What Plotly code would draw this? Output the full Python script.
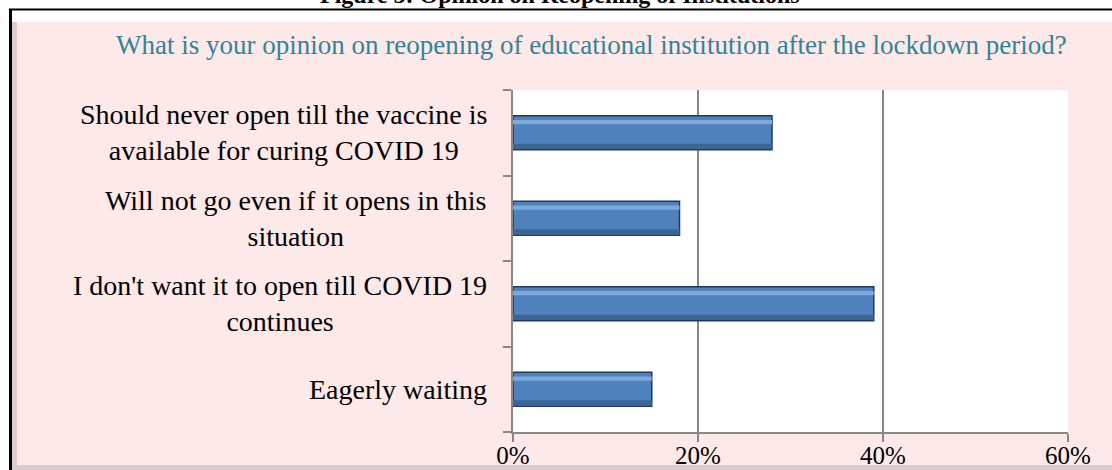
import plotly.graph_objects as go

# data
categories = [
    "Should never open till the vaccine is<br>available for curing COVID 19",
    "Will not go even if it opens in this<br>situation",
    "I don't want it to open till COVID 19<br>continues",
    "Eagerly waiting",
]
shares = [0.28, 0.18, 0.39, 0.15]
x_ticks = [0, 0.2, 0.4, 0.6]

W, H = 1112, 470
L, R, T, B = 513, 44, 90, 38
PW, PH = W - L - R, H - T - B


def px(x):
    return (x - L) / PW


def py(y):
    return (H - B - y) / PH


SERIF = "Liberation Serif, Times New Roman, serif"
PINK = "#FDE9E7"

fig = go.Figure()
# main bar
fig.add_trace(go.Bar(
    y=categories, x=shares, orientation="h", width=0.4,
    marker=dict(color="#4F81BD", line=dict(color="#1F3A5F", width=1.5)),
    showlegend=False, hoverinfo="x+y",
))
# bevel: light band near the top, darker band near the bottom
fig.add_trace(go.Bar(
    y=categories, x=shares, orientation="h", width=0.05, offset=0.1,
    marker=dict(color="#7FA8DA", line=dict(width=0)),
    showlegend=False, hoverinfo="skip",
))
fig.add_trace(go.Bar(
    y=categories, x=shares, orientation="h", width=0.06, offset=-0.19,
    marker=dict(color="#3C6494", line=dict(width=0)),
    showlegend=False, hoverinfo="skip",
))

annotations = []
for cat in categories:
    annotations.append(dict(
        x=px(489), xref="paper", y=cat, yref="y",
        text=cat, showarrow=False, xanchor="right", align="center",
        font=dict(family=SERIF, size=28, color="#000000"),
    ))

annotations.append(dict(
    x=px(591), xref="paper", y=py(45), yref="paper",
    text="What is your opinion on reopening of educational institution after the lockdown period?",
    showarrow=False, xanchor="center", yanchor="middle",
    font=dict(family=SERIF, size=27, color="#31849B"),
))
annotations.append(dict(
    x=px(560), xref="paper", y=py(10), yref="paper",
    text="<b>Figure 5: Opinion on Reopening of Institutions</b>",
    showarrow=False, xanchor="center", yanchor="bottom",
    font=dict(family=SERIF, size=24, color="#000000"),
))

shapes = [
    # white strip above the chart box and left of the frame
    dict(type="rect", xref="paper", yref="paper", x0=px(0), x1=px(W), y0=py(0), y1=py(22),
         fillcolor="#FFFFFF", line=dict(width=0), layer="below"),
    dict(type="rect", xref="paper", yref="paper", x0=px(0), x1=px(10), y0=py(0), y1=py(H),
         fillcolor="#FFFFFF", line=dict(width=0), layer="below"),
    # soft shadow edges
    dict(type="rect", xref="paper", yref="paper", x0=px(12), x1=px(17), y0=py(22), y1=py(H),
         fillcolor="#E2CACA", line=dict(width=0), layer="below"),
    dict(type="rect", xref="paper", yref="paper", x0=px(12), x1=px(W), y0=py(465), y1=py(H),
         fillcolor="#D8CCCC", line=dict(width=0), layer="below"),
    # black frame lines
    dict(type="line", xref="paper", yref="paper", x0=px(9), x1=px(W), y0=py(9.5), y1=py(9.5),
         line=dict(color="#000000", width=2)),
    dict(type="line", xref="paper", yref="paper", x0=px(10.5), x1=px(10.5), y0=py(9), y1=py(H),
         line=dict(color="#000000", width=3)),
]

fig.update_layout(
    width=W, height=H,
    autosize=False,
    barmode="overlay",
    margin=dict(l=L, r=R, t=T, b=B),
    paper_bgcolor=PINK,
    plot_bgcolor="#FFFFFF",
    annotations=annotations,
    shapes=shapes,
    xaxis=dict(
        range=[0, 0.6], tickvals=x_ticks, tickformat=".0%",
        showgrid=True, gridcolor="#878787", gridwidth=2,
        showline=True, linecolor="#878787", linewidth=2,
        ticks="outside", ticklen=8, tickwidth=2, tickcolor="#878787",
        tickfont=dict(family=SERIF, size=25, color="#000000"),
        ticklabelstandoff=-8,
        zeroline=False, fixedrange=True, automargin=False,
    ),
    yaxis=dict(
        categoryorder="array", categoryarray=categories[::-1],
        showticklabels=False,
        showline=True, linecolor="#878787", linewidth=2,
        ticks="outside", ticklen=8, tickwidth=2, tickcolor="#878787",
        tickson="boundaries", showgrid=False, fixedrange=True, automargin=False,
    ),
)

# drop the default page margin so the figure fills the window exactly
fig.write_html(
    "out.html",
    config={"responsive": False, "displayModeBar": False},
    post_script="document.body.style.margin='0';",
)
